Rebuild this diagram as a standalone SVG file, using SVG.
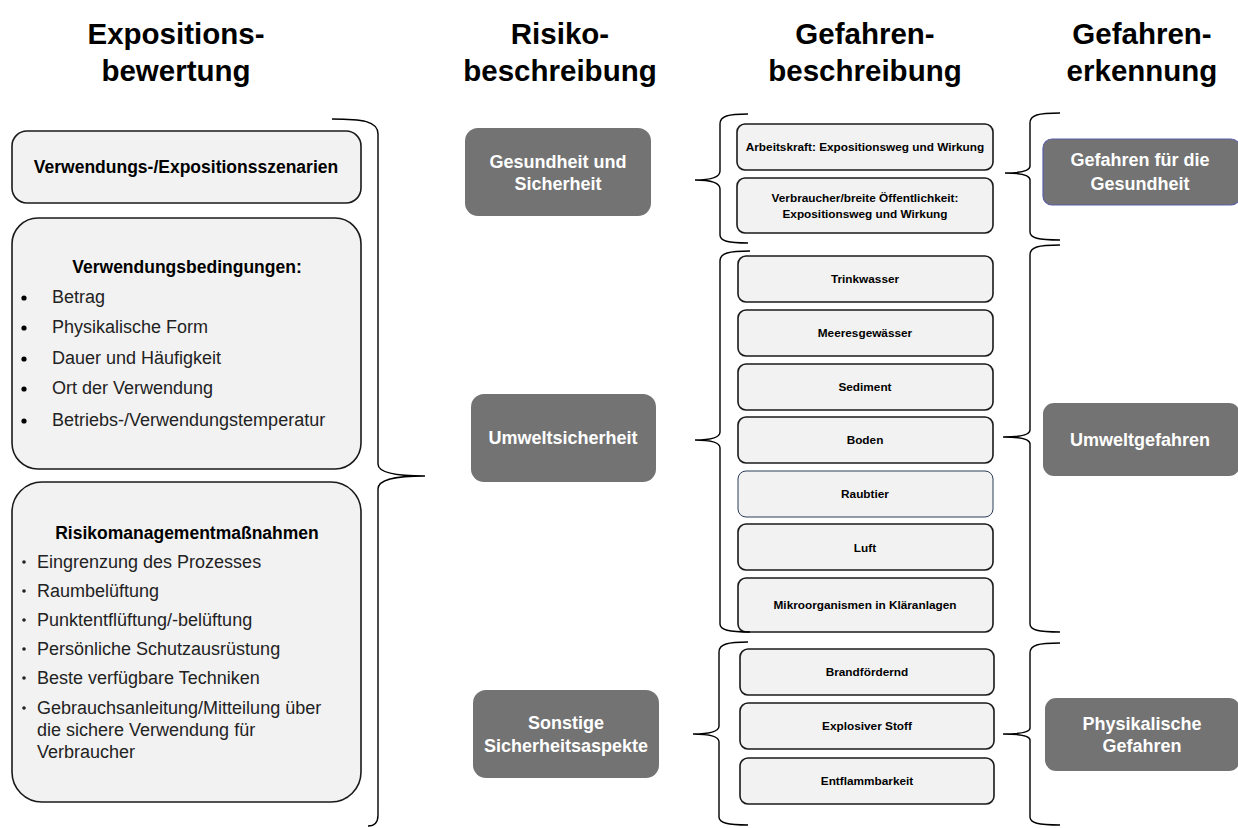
<svg xmlns="http://www.w3.org/2000/svg" width="1238" height="828" viewBox="0 0 1238 828">
<style>
.hd{font-family:"Liberation Sans",Arial,sans-serif;font-weight:bold;font-size:29.5px;fill:#000;text-anchor:middle}
.lb{fill:#f2f2f2;stroke:#1a1a1a;stroke-width:1.6}
.dk{fill:#737373;stroke:none}
.dt{font-family:"Liberation Sans",Arial,sans-serif;font-weight:bold;font-size:18px;fill:#fff;text-anchor:middle}
.st{font-family:"Liberation Sans",Arial,sans-serif;font-weight:bold;font-size:11.8px;fill:#000;text-anchor:middle}
.bt{font-family:"Liberation Sans",Arial,sans-serif;font-weight:bold;font-size:17.5px;fill:#000;text-anchor:middle}
.tx{font-family:"Liberation Sans",Arial,sans-serif;font-size:18px;fill:#222}
.br{fill:none;stroke:#000;stroke-width:1.4}
</style>
<rect width="1238" height="828" fill="#fff"/>
<g id="headers">
<text class="hd" x="176" y="44">Expositions-</text>
<text class="hd" x="176" y="81">bewertung</text>
<text class="hd" x="560" y="44">Risiko-</text>
<text class="hd" x="560" y="81">beschreibung</text>
<text class="hd" x="865" y="44">Gefahren-</text>
<text class="hd" x="865" y="81">beschreibung</text>
<text class="hd" x="1142" y="44">Gefahren-</text>
<text class="hd" x="1142" y="81">erkennung</text>
</g>
<g id="szenarien">
<rect class="lb" x="12" y="131" width="349" height="72" rx="15"/>
<text class="bt" x="186" y="173">Verwendungs-/Expositionsszenarien</text>
</g>
<g id="bedingungen">
<rect class="lb" x="12" y="218" width="349" height="251" rx="26"/>
<text class="bt" x="187" y="273">Verwendungsbedingungen:</text>
<g fill="#000"><circle cx="24" cy="298" r="2.6"/><circle cx="24" cy="328" r="2.6"/><circle cx="24" cy="359" r="2.6"/><circle cx="24" cy="389" r="2.6"/><circle cx="24" cy="421" r="2.6"/></g>
<text class="tx" x="52" y="303">Betrag</text>
<text class="tx" x="52" y="333">Physikalische Form</text>
<text class="tx" x="52" y="364">Dauer und Häufigkeit</text>
<text class="tx" x="52" y="394">Ort der Verwendung</text>
<text class="tx" x="52" y="426">Betriebs-/Verwendungstemperatur</text>
</g>
<g id="massnahmen">
<rect class="lb" x="12" y="482" width="349" height="320" rx="30"/>
<text class="bt" x="187" y="539">Risikomanagementmaßnahmen</text>
<g fill="#222"><circle cx="24" cy="562" r="1.8"/><circle cx="24" cy="591" r="1.8"/><circle cx="24" cy="620" r="1.8"/><circle cx="24" cy="649" r="1.8"/><circle cx="24" cy="678" r="1.8"/><circle cx="24" cy="708" r="1.8"/></g>
<text class="tx" x="37" y="568">Eingrenzung des Prozesses</text>
<text class="tx" x="37" y="597">Raumbelüftung</text>
<text class="tx" x="37" y="626">Punktentflüftung/-belüftung</text>
<text class="tx" x="37" y="655">Persönliche Schutzausrüstung</text>
<text class="tx" x="37" y="684">Beste verfügbare Techniken</text>
<text class="tx" x="37" y="714">Gebrauchsanleitung/Mitteilung über</text>
<text class="tx" x="37" y="736">die sichere Verwendung für</text>
<text class="tx" x="37" y="758">Verbraucher</text>
</g>
<g id="gesundheit-sicherheit">
<rect class="dk" x="465" y="128" width="186" height="88" rx="13"/>
<text class="dt" x="558" y="168">Gesundheit und</text>
<text class="dt" x="558" y="190">Sicherheit</text>
</g>
<g id="umweltsicherheit">
<rect class="dk" x="471" y="394" width="185" height="88" rx="13"/>
<text class="dt" x="563" y="444">Umweltsicherheit</text>
</g>
<g id="sonstige">
<rect class="dk" x="473" y="690" width="186" height="88" rx="13"/>
<text class="dt" x="566" y="729">Sonstige</text>
<text class="dt" x="566" y="752">Sicherheitsaspekte</text>
</g>
<g id="arbeitskraft">
<rect class="lb" x="737" y="124" width="256" height="46" rx="8"/>
<text class="st" x="865" y="151">Arbeitskraft: Expositionsweg und Wirkung</text>
</g>
<g id="verbraucher">
<rect class="lb" x="737" y="178" width="256" height="55" rx="8"/>
<text class="st" x="865" y="202">Verbraucher/breite Öffentlichkeit:</text>
<text class="st" x="865" y="218">Expositionsweg und Wirkung</text>
</g>
<g id="trinkwasser"><rect class="lb" x="738" y="256" width="255" height="46" rx="8"/><text class="st" x="865" y="283">Trinkwasser</text></g>
<g id="meeresgewaesser"><rect class="lb" x="738" y="310" width="255" height="46" rx="8"/><text class="st" x="865" y="337">Meeresgewässer</text></g>
<g id="sediment"><rect class="lb" x="738" y="364" width="255" height="46" rx="8"/><text class="st" x="865" y="391">Sediment</text></g>
<g id="boden"><rect class="lb" x="738" y="417" width="255" height="46" rx="8"/><text class="st" x="865" y="444">Boden</text></g>
<g id="raubtier"><rect x="738" y="471" width="255" height="46" rx="8" fill="#f2f2f2" stroke="#2a3d57" stroke-width="1"/><text class="st" x="865" y="498">Raubtier</text></g>
<g id="luft"><rect class="lb" x="738" y="524" width="255" height="46" rx="8"/><text class="st" x="865" y="552">Luft</text></g>
<g id="mikroorganismen"><rect class="lb" x="738" y="578" width="255" height="54" rx="8"/><text class="st" x="865" y="609">Mikroorganismen in Kläranlagen</text></g>
<g id="brandfoerdernd"><rect class="lb" x="740" y="649" width="254" height="46" rx="8"/><text class="st" x="867" y="676">Brandfördernd</text></g>
<g id="explosiv"><rect class="lb" x="740" y="703" width="254" height="46" rx="8"/><text class="st" x="867" y="730">Explosiver Stoff</text></g>
<g id="entflammbarkeit"><rect class="lb" x="740" y="758" width="254" height="46" rx="8"/><text class="st" x="867" y="785">Entflammbarkeit</text></g>
<g id="gefahren-gesundheit">
<rect x="1043" y="139" width="197" height="66" rx="9" fill="#737373" stroke="#5b5ea8" stroke-width="1.2"/>
<text class="dt" x="1140" y="166">Gefahren für die</text>
<text class="dt" x="1140" y="190">Gesundheit</text>
</g>
<g id="umweltgefahren">
<rect class="dk" x="1043" y="403" width="197" height="73" rx="11"/>
<text class="dt" x="1140" y="446">Umweltgefahren</text>
</g>
<g id="physikalische">
<rect class="dk" x="1045" y="698" width="195" height="73" rx="11"/>
<text class="dt" x="1142" y="730">Physikalische</text>
<text class="dt" x="1142" y="752">Gefahren</text>
</g>
<g id="connectors">
<path class="br" d="M332,119 C362,119 378,121 378,134 L378,464 C378,472 392,476 425,476 C392,476 378,480 378,489 L378,815 C378,823 374,826 368,826"/>
<path class="br" d="M748,114 C728,114 720,116 720,124 L720,171 C720,177 712,180 695,180 C712,180 720,183 720,189 L720,235 C720,241 728,243 748,243"/>
<path class="br" d="M750,251 C729,251 720,253 720,261 L720,432 C720,437 712,440 695,440 C712,440 720,443 720,448 L720,624 C720,630 729,632 750,632"/>
<path class="br" d="M748,642 C728,642 719,644 719,652 L719,726 C719,731 711,734 693,734 C711,734 719,737 719,742 L719,817 C719,823 728,825 748,825"/>
<path class="br" d="M1060,113 C1038,113 1030,115 1030,123 L1030,166 C1030,171 1022,173 1005,173 C1022,173 1030,175 1030,180 L1030,232 C1030,238 1038,240 1060,240"/>
<path class="br" d="M1060,245 C1038,245 1030,247 1030,255 L1030,430 C1030,435 1021,437 1003,437 C1021,437 1030,439 1030,444 L1030,624 C1030,630 1038,632 1060,632"/>
<path class="br" d="M1060,643 C1038,643 1030,645 1030,653 L1030,728 C1030,732 1021,734 1003,734 C1021,734 1030,736 1030,740 L1030,817 C1030,823 1038,825 1060,825"/>
</g>
</svg>
